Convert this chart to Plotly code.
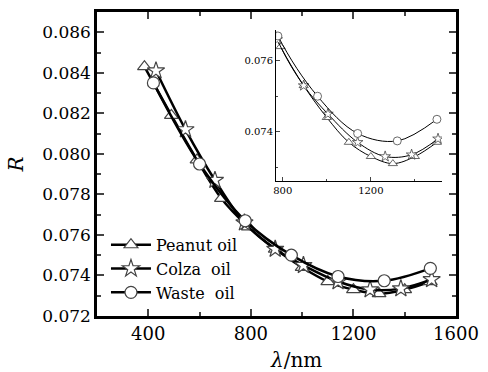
import plotly.graph_objects as go

# Data
peanut_x = [385, 490, 590, 685, 790, 895, 1000, 1100, 1200, 1300, 1400, 1500]
peanut_y = [0.0843, 0.0819, 0.0797, 0.0778, 0.0764, 0.0753, 0.0744, 0.0737, 0.0733, 0.0731, 0.0733, 0.0737]
colza_x = [430, 545, 660, 775, 895, 1005, 1140, 1265, 1385, 1505]
colza_y = [0.0841, 0.0812, 0.0787, 0.0766, 0.0753, 0.0745, 0.0737, 0.0733, 0.07335, 0.0738]
waste_x = [420, 600, 778, 958, 1140, 1320, 1500]
waste_y = [0.0835, 0.0795, 0.0767, 0.0750, 0.07395, 0.07374, 0.07435]

series = [
    ("Peanut oil", peanut_x, peanut_y, "triangle-up"),
    ("Colza  oil", colza_x, colza_y, "star"),
    ("Waste  oil", waste_x, waste_y, "circle"),
]

FONT = "DejaVu Serif"
fig = go.Figure()

for name, xs, ys, sym in series:
    fig.add_trace(go.Scatter(
        x=xs, y=ys, name=name, mode="lines+markers",
        line=dict(color="black", width=2.5, shape="spline"),
        marker=dict(symbol=sym, size=12 if sym != "star" else 13, color="white",
                    line=dict(color="#444", width=1.2)),
        xaxis="x", yaxis="y",
    ))

for name, xs, ys, sym in series:
    fig.add_trace(go.Scatter(
        x=xs, y=ys, name=name, mode="lines+markers", showlegend=False,
        line=dict(color="black", width=1, shape="spline"),
        marker=dict(symbol=sym, size=8, color="white",
                    line=dict(color="#444", width=0.8)),
        xaxis="x2", yaxis="y2",
    ))

fig.update_layout(
    width=488, height=372,
    margin=dict(l=97, r=31, t=9, b=56),
    paper_bgcolor="white", plot_bgcolor="white",
    font=dict(family=FONT, color="black", size=17),
    showlegend=True,
    legend=dict(x=0.025, y=0.29, xanchor="left", yanchor="top",
                bgcolor="rgba(0,0,0,0)", font=dict(size=16, family=FONT),
                itemwidth=40, tracegroupgap=0),
    xaxis=dict(
        domain=[0, 1], range=[200, 1600], tickvals=[400, 800, 1200, 1600],
        ticks="inside", ticklen=7, tickwidth=2, mirror="allticks",
        showline=True, linewidth=2.5, linecolor="black", showgrid=False, zeroline=False,
        minor=dict(tickvals=[600, 1000, 1400], ticks="inside", ticklen=4, tickwidth=2),
        tickfont=dict(size=18, family=FONT),
    ),
    yaxis=dict(
        domain=[0, 1], range=[0.072, 0.087],
        tickvals=[0.072, 0.074, 0.076, 0.078, 0.080, 0.082, 0.084, 0.086],
        tickformat=".3f",
        ticks="inside", ticklen=7, tickwidth=2, mirror="allticks",
        showline=True, linewidth=2.5, linecolor="black", showgrid=False, zeroline=False,
        minor=dict(tickvals=[0.073, 0.075, 0.077, 0.079, 0.081, 0.083, 0.085, 0.087],
                   ticks="inside", ticklen=4, tickwidth=2),
        title=dict(text="<i>R</i>", font=dict(size=20, family=FONT), standoff=14),
        tickfont=dict(size=17, family=FONT),
    ),
    xaxis2=dict(
        domain=[0.499, 0.961], anchor="y2", range=[770, 1523],
        tickvals=[800, 1200], ticks="inside", ticklen=4, tickwidth=1,
        showline=True, linewidth=1.2, linecolor="black", showgrid=False, zeroline=False,
        minor=dict(tickvals=[1000, 1400], ticks="inside", ticklen=2, tickwidth=1),
        tickfont=dict(size=10, family=FONT),
    ),
    yaxis2=dict(
        domain=[0.443, 0.941], anchor="x2", range=[0.0726, 0.07687],
        tickvals=[0.074, 0.076], tickformat=".3f", ticks="inside", ticklen=4, tickwidth=1,
        showline=True, linewidth=1.2, linecolor="black", showgrid=False, zeroline=False,
        minor=dict(tickvals=[0.073, 0.075], ticks="inside", ticklen=2, tickwidth=1),
        tickfont=dict(size=10, family=FONT),
    ),
    annotations=[dict(text="<i>λ</i>/nm", xref="paper", yref="paper",
                      x=0.555, y=-0.145, xanchor="center", yanchor="middle",
                      showarrow=False, font=dict(size=20, family=FONT))],
)

fig.write_html("out.html", config={"displayModeBar": False},
               post_script="document.body.style.margin='0';document.body.style.padding='0';")
